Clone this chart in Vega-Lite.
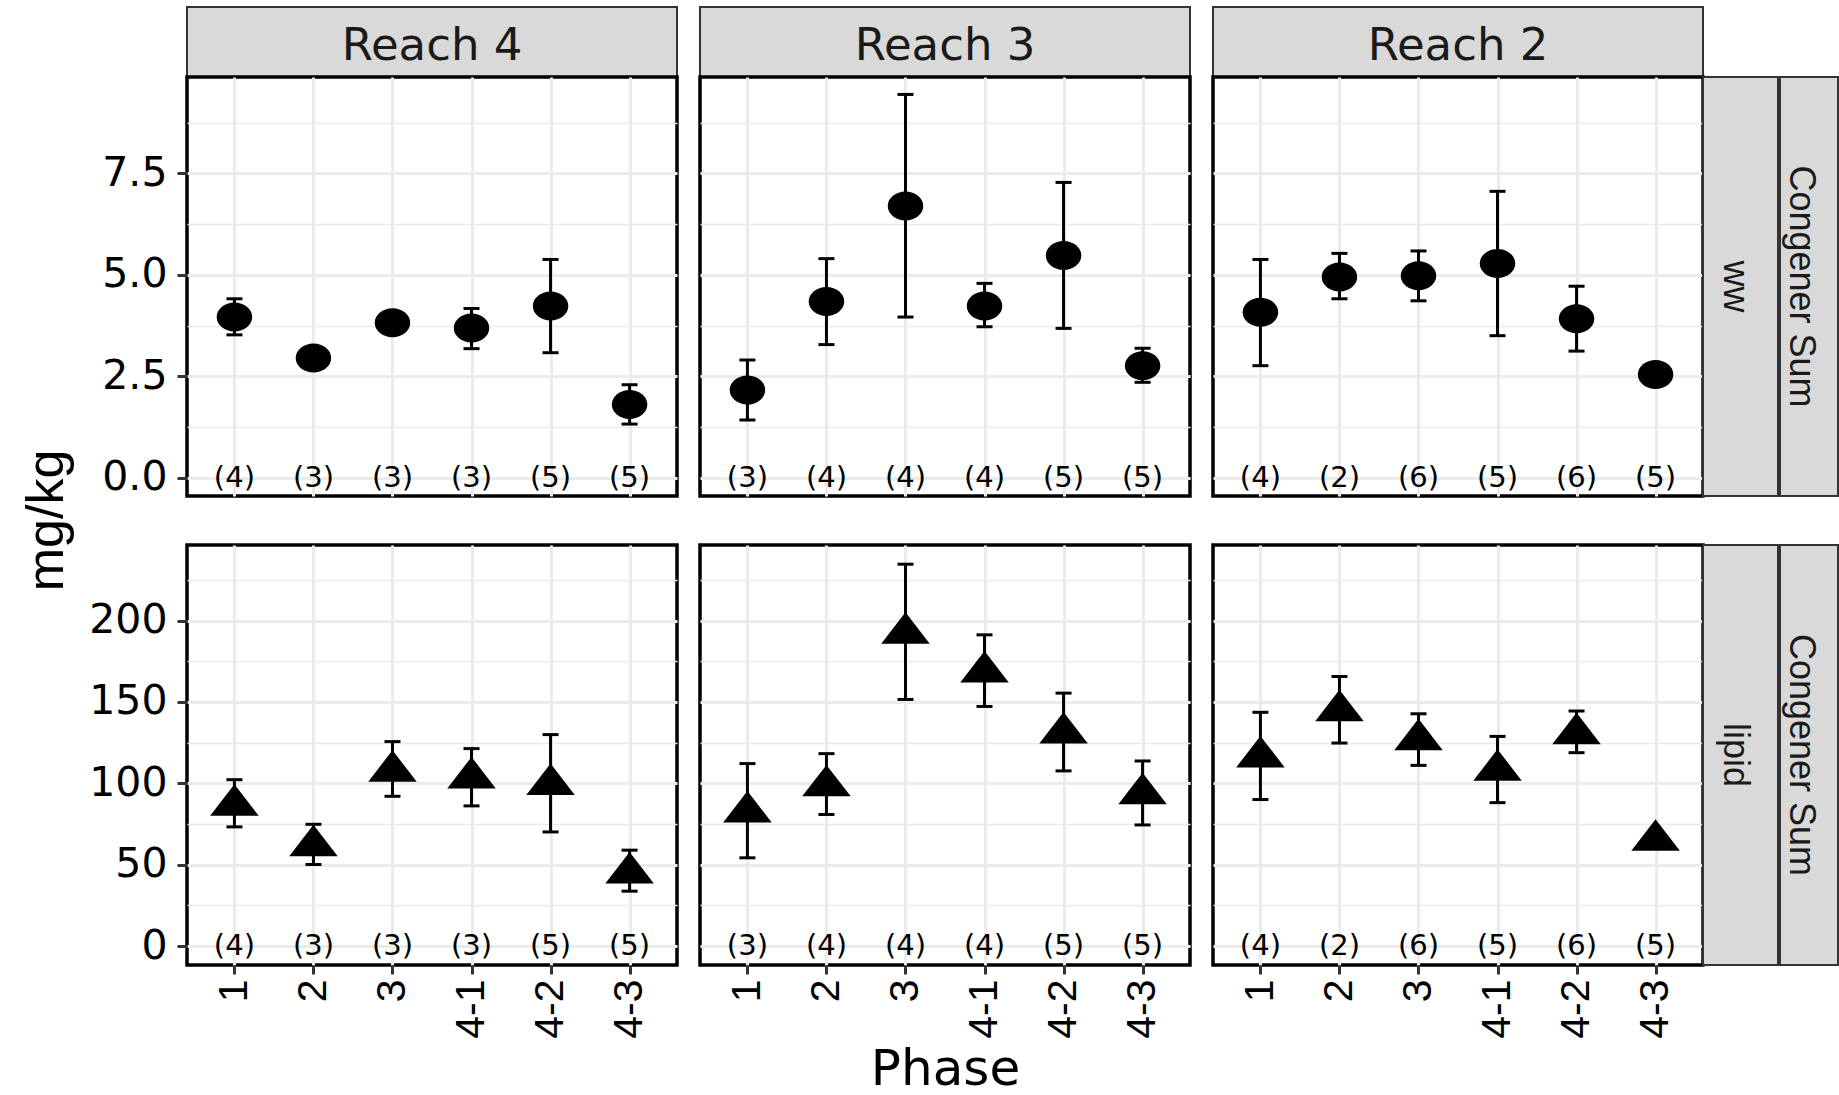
{
  "$schema": "https://vega.github.io/schema/vega-lite/v6.json",
  "background": "white",
  "padding": {"left": 0, "top": 6, "right": 0, "bottom": 0},
  "config": {
    "view": {"stroke": null},
    "axis": {"domain": false, "grid": true, "gridColor": "#ebebeb", "gridWidth": 3, "tickColor": "#333333", "tickWidth": 3, "labelColor": "black", "titleColor": "black", "titleFontWeight": "normal", "labelOverlap": false, "labelFlush": false},
    "axisX": {"labelAngle": 270, "labelFont": "Liberation Sans", "labelFontSize": 41, "labelPadding": 5, "tickSize": 9, "titleFont": "DejaVu Sans", "titleFontSize": 50, "titlePadding": 6},
    "axisY": {"labelFont": "DejaVu Sans", "labelFontSize": 41, "labelPadding": 10, "tickSize": 10}
  },
  "datasets": {
    "congener": [
      {"reach": "Reach 4", "basis": "ww", "phase": "1", "mean": 3.96, "lo": 3.52, "hi": 4.41, "nlab": "(4)"},
      {"reach": "Reach 4", "basis": "ww", "phase": "2", "mean": 2.95, "lo": 2.84, "hi": 3.06, "nlab": "(3)"},
      {"reach": "Reach 4", "basis": "ww", "phase": "3", "mean": 3.82, "lo": 3.72, "hi": 3.93, "nlab": "(3)"},
      {"reach": "Reach 4", "basis": "ww", "phase": "4-1", "mean": 3.69, "lo": 3.18, "hi": 4.17, "nlab": "(3)"},
      {"reach": "Reach 4", "basis": "ww", "phase": "4-2", "mean": 4.23, "lo": 3.08, "hi": 5.38, "nlab": "(5)"},
      {"reach": "Reach 4", "basis": "ww", "phase": "4-3", "mean": 1.80, "lo": 1.32, "hi": 2.29, "nlab": "(5)"},
      {"reach": "Reach 3", "basis": "ww", "phase": "1", "mean": 2.16, "lo": 1.42, "hi": 2.90, "nlab": "(3)"},
      {"reach": "Reach 3", "basis": "ww", "phase": "2", "mean": 4.34, "lo": 3.28, "hi": 5.40, "nlab": "(4)"},
      {"reach": "Reach 3", "basis": "ww", "phase": "3", "mean": 6.70, "lo": 3.96, "hi": 9.45, "nlab": "(4)"},
      {"reach": "Reach 3", "basis": "ww", "phase": "4-1", "mean": 4.23, "lo": 3.72, "hi": 4.79, "nlab": "(4)"},
      {"reach": "Reach 3", "basis": "ww", "phase": "4-2", "mean": 5.48, "lo": 3.68, "hi": 7.28, "nlab": "(5)"},
      {"reach": "Reach 3", "basis": "ww", "phase": "4-3", "mean": 2.76, "lo": 2.35, "hi": 3.19, "nlab": "(5)"},
      {"reach": "Reach 2", "basis": "ww", "phase": "1", "mean": 4.08, "lo": 2.76, "hi": 5.38, "nlab": "(4)"},
      {"reach": "Reach 2", "basis": "ww", "phase": "2", "mean": 4.95, "lo": 4.41, "hi": 5.53, "nlab": "(2)"},
      {"reach": "Reach 2", "basis": "ww", "phase": "3", "mean": 4.98, "lo": 4.36, "hi": 5.59, "nlab": "(6)"},
      {"reach": "Reach 2", "basis": "ww", "phase": "4-1", "mean": 5.28, "lo": 3.50, "hi": 7.06, "nlab": "(5)"},
      {"reach": "Reach 2", "basis": "ww", "phase": "4-2", "mean": 3.92, "lo": 3.12, "hi": 4.72, "nlab": "(6)"},
      {"reach": "Reach 2", "basis": "ww", "phase": "4-3", "mean": 2.54, "lo": 2.46, "hi": 2.62, "nlab": "(5)"},
      {"reach": "Reach 4", "basis": "lipid", "phase": "1", "mean": 86.5, "lo": 73.2, "hi": 102.2, "nlab": "(4)"},
      {"reach": "Reach 4", "basis": "lipid", "phase": "2", "mean": 61.6, "lo": 50.1, "hi": 74.8, "nlab": "(3)"},
      {"reach": "Reach 4", "basis": "lipid", "phase": "3", "mean": 107.4, "lo": 92.0, "hi": 125.6, "nlab": "(3)"},
      {"reach": "Reach 4", "basis": "lipid", "phase": "4-1", "mean": 103.3, "lo": 86.1, "hi": 121.3, "nlab": "(3)"},
      {"reach": "Reach 4", "basis": "lipid", "phase": "4-2", "mean": 99.2, "lo": 70.1, "hi": 129.9, "nlab": "(5)"},
      {"reach": "Reach 4", "basis": "lipid", "phase": "4-3", "mean": 44.8, "lo": 33.7, "hi": 58.9, "nlab": "(5)"},
      {"reach": "Reach 3", "basis": "lipid", "phase": "1", "mean": 82.4, "lo": 54.2, "hi": 112.1, "nlab": "(3)"},
      {"reach": "Reach 3", "basis": "lipid", "phase": "2", "mean": 98.4, "lo": 80.8, "hi": 118.2, "nlab": "(4)"},
      {"reach": "Reach 3", "basis": "lipid", "phase": "3", "mean": 192.2, "lo": 151.5, "hi": 234.6, "nlab": "(4)"},
      {"reach": "Reach 3", "basis": "lipid", "phase": "4-1", "mean": 168.3, "lo": 147.2, "hi": 191.2, "nlab": "(4)"},
      {"reach": "Reach 3", "basis": "lipid", "phase": "4-2", "mean": 130.9, "lo": 107.6, "hi": 155.4, "nlab": "(5)"},
      {"reach": "Reach 3", "basis": "lipid", "phase": "4-3", "mean": 93.5, "lo": 74.4, "hi": 113.7, "nlab": "(5)"},
      {"reach": "Reach 2", "basis": "lipid", "phase": "1", "mean": 116.2, "lo": 90.0, "hi": 143.6, "nlab": "(4)"},
      {"reach": "Reach 2", "basis": "lipid", "phase": "2", "mean": 144.6, "lo": 124.7, "hi": 165.6, "nlab": "(2)"},
      {"reach": "Reach 2", "basis": "lipid", "phase": "3", "mean": 126.8, "lo": 111.0, "hi": 142.7, "nlab": "(6)"},
      {"reach": "Reach 2", "basis": "lipid", "phase": "4-1", "mean": 108.0, "lo": 88.1, "hi": 128.8, "nlab": "(5)"},
      {"reach": "Reach 2", "basis": "lipid", "phase": "4-2", "mean": 130.5, "lo": 118.8, "hi": 144.4, "nlab": "(6)"},
      {"reach": "Reach 2", "basis": "lipid", "phase": "4-3", "mean": 65.0, "lo": 62.0, "hi": 68.0, "nlab": "(5)"}
    ]
  },
  "columns": 9,
  "spacing": 0,
  "bounds": "flush",
  "align": "each",
  "concat": [
    {"width": 187, "height": 70, "view": {"fill": "white"}, "data": {"values": [{}]}, "mark": {"type": "text"}, "encoding": {"text": {"value": ""}}},
    {"width": 490, "height": 70, "view": {"fill": "#d9d9d9", "stroke": "#333333", "strokeWidth": 2}, "data": {"values": [{"label": "Reach 4"}]}, "mark": {"type": "text", "font": "DejaVu Sans", "fontSize": 45, "color": "#1a1a1a", "baseline": "middle", "align": "center", "dy": 4}, "encoding": {"text": {"field": "label"}}},
    {"width": 23, "height": 70, "data": {"values": [{}]}, "mark": {"type": "text"}, "encoding": {"text": {"value": ""}}},
    {"width": 490, "height": 70, "view": {"fill": "#d9d9d9", "stroke": "#333333", "strokeWidth": 2}, "data": {"values": [{"label": "Reach 3"}]}, "mark": {"type": "text", "font": "DejaVu Sans", "fontSize": 45, "color": "#1a1a1a", "baseline": "middle", "align": "center", "dy": 4}, "encoding": {"text": {"field": "label"}}},
    {"width": 23, "height": 70, "data": {"values": [{}]}, "mark": {"type": "text"}, "encoding": {"text": {"value": ""}}},
    {"width": 490, "height": 70, "view": {"fill": "#d9d9d9", "stroke": "#333333", "strokeWidth": 2}, "data": {"values": [{"label": "Reach 2"}]}, "mark": {"type": "text", "font": "DejaVu Sans", "fontSize": 45, "color": "#1a1a1a", "baseline": "middle", "align": "center", "dy": 4}, "encoding": {"text": {"field": "label"}}},
    {"width": 75, "height": 70, "data": {"values": [{}]}, "mark": {"type": "text"}, "encoding": {"text": {"value": ""}}},
    {"width": 2, "height": 70, "data": {"values": [{}]}, "mark": {"type": "text"}, "encoding": {"text": {"value": ""}}},
    {"width": 58, "height": 70, "data": {"values": [{}]}, "mark": {"type": "text"}, "encoding": {"text": {"value": ""}}},

    {"width": 187, "height": 419, "view": {"fill": "white"}, "data": {"values": [{}]}, "mark": {"type": "text"}, "encoding": {"text": {"value": ""}}},
    {
      "width": 490, "height": 419,
      "view": {"fill": "white", "stroke": "black", "strokeWidth": 3.5},
      "data": {"name": "congener"},
      "transform": [{"filter": "datum.reach === 'Reach 4' && datum.basis === 'ww'"}],
      "encoding": {"x": {"field": "phase", "type": "ordinal", "scale": {"type": "point", "padding": 0.6, "domain": ["1", "2", "3", "4-1", "4-2", "4-3"]}, "axis": {"title": null, "labels": false, "ticks": false}}},
      "layer": [
        {"mark": {"type": "rule", "color": "black", "strokeWidth": 3}, "encoding": {"y": {"field": "lo", "type": "quantitative", "scale": {"domain": [-0.454, 9.88], "nice": false, "zero": false}, "axis": {"title": null, "values": [0, 1.25, 2.5, 3.75, 5, 6.25, 7.5, 8.75], "labelExpr": "datum.value % 2.5 === 0 ? format(datum.value, '.1f') : ''", "tickOpacity": {"condition": {"test": "datum.value % 2.5 !== 0", "value": 0}, "value": 1}, "gridWidth": {"condition": {"test": "datum.value % 2.5 !== 0", "value": 1.7}, "value": 3}}}, "y2": {"field": "hi"}}},
        {"mark": {"type": "tick", "orient": "horizontal", "size": 16, "thickness": 3, "color": "black", "opacity": 1}, "encoding": {"y": {"field": "lo", "type": "quantitative", "scale": {"domain": [-0.454, 9.88], "nice": false, "zero": false}}}},
        {"mark": {"type": "tick", "orient": "horizontal", "size": 16, "thickness": 3, "color": "black", "opacity": 1}, "encoding": {"y": {"field": "hi", "type": "quantitative", "scale": {"domain": [-0.454, 9.88], "nice": false, "zero": false}}}},
        {"mark": {"type": "point", "shape": "M-1,0A1,0.817 0 1,0 1,0A1,0.817 0 1,0 -1,0Z", "size": 1260, "filled": true, "color": "black", "opacity": 1, "strokeWidth": 0}, "encoding": {"y": {"field": "mean", "type": "quantitative", "scale": {"domain": [-0.454, 9.88], "nice": false, "zero": false}}}},
        {"mark": {"type": "text", "font": "DejaVu Sans", "fontSize": 29, "color": "black", "baseline": "middle"}, "encoding": {"y": {"datum": 0, "type": "quantitative", "scale": {"domain": [-0.454, 9.88], "nice": false, "zero": false}}, "text": {"field": "nlab"}}}
      ]
    },
    {"width": 23, "height": 419, "data": {"values": [{}]}, "mark": {"type": "text"}, "encoding": {"text": {"value": ""}}},
    {
      "width": 490, "height": 419,
      "view": {"fill": "white", "stroke": "black", "strokeWidth": 3.5},
      "data": {"name": "congener"},
      "transform": [{"filter": "datum.reach === 'Reach 3' && datum.basis === 'ww'"}],
      "encoding": {"x": {"field": "phase", "type": "ordinal", "scale": {"type": "point", "padding": 0.6, "domain": ["1", "2", "3", "4-1", "4-2", "4-3"]}, "axis": {"title": null, "labels": false, "ticks": false}}},
      "layer": [
        {"mark": {"type": "rule", "color": "black", "strokeWidth": 3}, "encoding": {"y": {"field": "lo", "type": "quantitative", "scale": {"domain": [-0.454, 9.88], "nice": false, "zero": false}, "axis": {"title": null, "labels": false, "ticks": false, "values": [0, 1.25, 2.5, 3.75, 5, 6.25, 7.5, 8.75], "gridWidth": {"condition": {"test": "datum.value % 2.5 !== 0", "value": 1.7}, "value": 3}}}, "y2": {"field": "hi"}}},
        {"mark": {"type": "tick", "orient": "horizontal", "size": 16, "thickness": 3, "color": "black", "opacity": 1}, "encoding": {"y": {"field": "lo", "type": "quantitative", "scale": {"domain": [-0.454, 9.88], "nice": false, "zero": false}}}},
        {"mark": {"type": "tick", "orient": "horizontal", "size": 16, "thickness": 3, "color": "black", "opacity": 1}, "encoding": {"y": {"field": "hi", "type": "quantitative", "scale": {"domain": [-0.454, 9.88], "nice": false, "zero": false}}}},
        {"mark": {"type": "point", "shape": "M-1,0A1,0.817 0 1,0 1,0A1,0.817 0 1,0 -1,0Z", "size": 1260, "filled": true, "color": "black", "opacity": 1, "strokeWidth": 0}, "encoding": {"y": {"field": "mean", "type": "quantitative", "scale": {"domain": [-0.454, 9.88], "nice": false, "zero": false}}}},
        {"mark": {"type": "text", "font": "DejaVu Sans", "fontSize": 29, "color": "black", "baseline": "middle"}, "encoding": {"y": {"datum": 0, "type": "quantitative", "scale": {"domain": [-0.454, 9.88], "nice": false, "zero": false}}, "text": {"field": "nlab"}}}
      ]
    },
    {"width": 23, "height": 419, "data": {"values": [{}]}, "mark": {"type": "text"}, "encoding": {"text": {"value": ""}}},
    {
      "width": 490, "height": 419,
      "view": {"fill": "white", "stroke": "black", "strokeWidth": 3.5},
      "data": {"name": "congener"},
      "transform": [{"filter": "datum.reach === 'Reach 2' && datum.basis === 'ww'"}],
      "encoding": {"x": {"field": "phase", "type": "ordinal", "scale": {"type": "point", "padding": 0.6, "domain": ["1", "2", "3", "4-1", "4-2", "4-3"]}, "axis": {"title": null, "labels": false, "ticks": false}}},
      "layer": [
        {"mark": {"type": "rule", "color": "black", "strokeWidth": 3}, "encoding": {"y": {"field": "lo", "type": "quantitative", "scale": {"domain": [-0.454, 9.88], "nice": false, "zero": false}, "axis": {"title": null, "labels": false, "ticks": false, "values": [0, 1.25, 2.5, 3.75, 5, 6.25, 7.5, 8.75], "gridWidth": {"condition": {"test": "datum.value % 2.5 !== 0", "value": 1.7}, "value": 3}}}, "y2": {"field": "hi"}}},
        {"mark": {"type": "tick", "orient": "horizontal", "size": 16, "thickness": 3, "color": "black", "opacity": 1}, "encoding": {"y": {"field": "lo", "type": "quantitative", "scale": {"domain": [-0.454, 9.88], "nice": false, "zero": false}}}},
        {"mark": {"type": "tick", "orient": "horizontal", "size": 16, "thickness": 3, "color": "black", "opacity": 1}, "encoding": {"y": {"field": "hi", "type": "quantitative", "scale": {"domain": [-0.454, 9.88], "nice": false, "zero": false}}}},
        {"mark": {"type": "point", "shape": "M-1,0A1,0.817 0 1,0 1,0A1,0.817 0 1,0 -1,0Z", "size": 1260, "filled": true, "color": "black", "opacity": 1, "strokeWidth": 0}, "encoding": {"y": {"field": "mean", "type": "quantitative", "scale": {"domain": [-0.454, 9.88], "nice": false, "zero": false}}}},
        {"mark": {"type": "text", "font": "DejaVu Sans", "fontSize": 29, "color": "black", "baseline": "middle"}, "encoding": {"y": {"datum": 0, "type": "quantitative", "scale": {"domain": [-0.454, 9.88], "nice": false, "zero": false}}, "text": {"field": "nlab"}}}
      ]
    },
    {"width": 75, "height": 419, "view": {"fill": "#d9d9d9", "stroke": "#333333", "strokeWidth": 2}, "data": {"values": [{"label": "ww"}]}, "mark": {"type": "text", "angle": 90, "font": "Liberation Sans", "fontSize": 36, "color": "#1a1a1a", "baseline": "middle", "align": "center", "dy": 6}, "encoding": {"text": {"field": "label"}}},
    {"width": 2, "height": 419, "data": {"values": [{}]}, "mark": {"type": "text"}, "encoding": {"text": {"value": ""}}},
    {"width": 58, "height": 419, "view": {"fill": "#d9d9d9", "stroke": "#333333", "strokeWidth": 2}, "data": {"values": [{"label": "Congener Sum"}]}, "mark": {"type": "text", "angle": 90, "font": "Liberation Sans", "fontSize": 36, "color": "#1a1a1a", "baseline": "middle", "align": "center", "dy": 8}, "encoding": {"text": {"field": "label"}}},

    {"width": 187, "height": 49, "data": {"values": [{"label": "mg/kg"}]}, "mark": {"type": "text", "angle": 270, "font": "Liberation Sans", "fontSize": 52, "color": "black", "baseline": "middle", "align": "center", "dy": -47}, "encoding": {"text": {"field": "label"}}},
    {"width": 490, "height": 49, "data": {"values": [{}]}, "mark": {"type": "text"}, "encoding": {"text": {"value": ""}}},
    {"width": 23, "height": 49, "data": {"values": [{}]}, "mark": {"type": "text"}, "encoding": {"text": {"value": ""}}},
    {"width": 490, "height": 49, "data": {"values": [{}]}, "mark": {"type": "text"}, "encoding": {"text": {"value": ""}}},
    {"width": 23, "height": 49, "data": {"values": [{}]}, "mark": {"type": "text"}, "encoding": {"text": {"value": ""}}},
    {"width": 490, "height": 49, "data": {"values": [{}]}, "mark": {"type": "text"}, "encoding": {"text": {"value": ""}}},
    {"width": 75, "height": 49, "data": {"values": [{}]}, "mark": {"type": "text"}, "encoding": {"text": {"value": ""}}},
    {"width": 2, "height": 49, "data": {"values": [{}]}, "mark": {"type": "text"}, "encoding": {"text": {"value": ""}}},
    {"width": 58, "height": 49, "data": {"values": [{}]}, "mark": {"type": "text"}, "encoding": {"text": {"value": ""}}},

    {"width": 187, "height": 420, "data": {"values": [{}]}, "mark": {"type": "text"}, "encoding": {"text": {"value": ""}}},
    {
      "width": 490, "height": 420,
      "view": {"fill": "white", "stroke": "black", "strokeWidth": 3.5},
      "data": {"name": "congener"},
      "transform": [{"filter": "datum.reach === 'Reach 4' && datum.basis === 'lipid'"}],
      "encoding": {"x": {"field": "phase", "type": "ordinal", "scale": {"type": "point", "padding": 0.6, "domain": ["1", "2", "3", "4-1", "4-2", "4-3"]}, "axis": {"title": null}}},
      "layer": [
        {"mark": {"type": "rule", "color": "black", "strokeWidth": 3}, "encoding": {"y": {"field": "lo", "type": "quantitative", "scale": {"domain": [-11.66, 246.4], "nice": false, "zero": false}, "axis": {"title": null, "values": [0, 25, 50, 75, 100, 125, 150, 175, 200, 225], "labelExpr": "datum.value % 50 === 0 ? datum.label : ''", "tickOpacity": {"condition": {"test": "datum.value % 50 !== 0", "value": 0}, "value": 1}, "gridWidth": {"condition": {"test": "datum.value % 50 !== 0", "value": 1.7}, "value": 3}}}, "y2": {"field": "hi"}}},
        {"mark": {"type": "tick", "orient": "horizontal", "size": 16, "thickness": 3, "color": "black", "opacity": 1}, "encoding": {"y": {"field": "lo", "type": "quantitative", "scale": {"domain": [-11.66, 246.4], "nice": false, "zero": false}}}},
        {"mark": {"type": "tick", "orient": "horizontal", "size": 16, "thickness": 3, "color": "black", "opacity": 1}, "encoding": {"y": {"field": "hi", "type": "quantitative", "scale": {"domain": [-11.66, 246.4], "nice": false, "zero": false}}}},
        {"mark": {"type": "point", "shape": "M0,-0.866L1,0.433L-1,0.433Z", "size": 2352, "filled": true, "color": "black", "opacity": 1, "strokeWidth": 0}, "encoding": {"y": {"field": "mean", "type": "quantitative", "scale": {"domain": [-11.66, 246.4], "nice": false, "zero": false}}}},
        {"mark": {"type": "text", "font": "DejaVu Sans", "fontSize": 29, "color": "black", "baseline": "middle"}, "encoding": {"y": {"datum": 0, "type": "quantitative", "scale": {"domain": [-11.66, 246.4], "nice": false, "zero": false}}, "text": {"field": "nlab"}}}
      ]
    },
    {"width": 23, "height": 420, "data": {"values": [{}]}, "mark": {"type": "text"}, "encoding": {"text": {"value": ""}}},
    {
      "width": 490, "height": 420,
      "view": {"fill": "white", "stroke": "black", "strokeWidth": 3.5},
      "data": {"name": "congener"},
      "transform": [{"filter": "datum.reach === 'Reach 3' && datum.basis === 'lipid'"}],
      "encoding": {"x": {"field": "phase", "type": "ordinal", "scale": {"type": "point", "padding": 0.6, "domain": ["1", "2", "3", "4-1", "4-2", "4-3"]}, "axis": {"title": "Phase"}}},
      "layer": [
        {"mark": {"type": "rule", "color": "black", "strokeWidth": 3}, "encoding": {"y": {"field": "lo", "type": "quantitative", "scale": {"domain": [-11.66, 246.4], "nice": false, "zero": false}, "axis": {"title": null, "labels": false, "ticks": false, "values": [0, 25, 50, 75, 100, 125, 150, 175, 200, 225], "gridWidth": {"condition": {"test": "datum.value % 50 !== 0", "value": 1.7}, "value": 3}}}, "y2": {"field": "hi"}}},
        {"mark": {"type": "tick", "orient": "horizontal", "size": 16, "thickness": 3, "color": "black", "opacity": 1}, "encoding": {"y": {"field": "lo", "type": "quantitative", "scale": {"domain": [-11.66, 246.4], "nice": false, "zero": false}}}},
        {"mark": {"type": "tick", "orient": "horizontal", "size": 16, "thickness": 3, "color": "black", "opacity": 1}, "encoding": {"y": {"field": "hi", "type": "quantitative", "scale": {"domain": [-11.66, 246.4], "nice": false, "zero": false}}}},
        {"mark": {"type": "point", "shape": "M0,-0.866L1,0.433L-1,0.433Z", "size": 2352, "filled": true, "color": "black", "opacity": 1, "strokeWidth": 0}, "encoding": {"y": {"field": "mean", "type": "quantitative", "scale": {"domain": [-11.66, 246.4], "nice": false, "zero": false}}}},
        {"mark": {"type": "text", "font": "DejaVu Sans", "fontSize": 29, "color": "black", "baseline": "middle"}, "encoding": {"y": {"datum": 0, "type": "quantitative", "scale": {"domain": [-11.66, 246.4], "nice": false, "zero": false}}, "text": {"field": "nlab"}}}
      ]
    },
    {"width": 23, "height": 420, "data": {"values": [{}]}, "mark": {"type": "text"}, "encoding": {"text": {"value": ""}}},
    {
      "width": 490, "height": 420,
      "view": {"fill": "white", "stroke": "black", "strokeWidth": 3.5},
      "data": {"name": "congener"},
      "transform": [{"filter": "datum.reach === 'Reach 2' && datum.basis === 'lipid'"}],
      "encoding": {"x": {"field": "phase", "type": "ordinal", "scale": {"type": "point", "padding": 0.6, "domain": ["1", "2", "3", "4-1", "4-2", "4-3"]}, "axis": {"title": null}}},
      "layer": [
        {"mark": {"type": "rule", "color": "black", "strokeWidth": 3}, "encoding": {"y": {"field": "lo", "type": "quantitative", "scale": {"domain": [-11.66, 246.4], "nice": false, "zero": false}, "axis": {"title": null, "labels": false, "ticks": false, "values": [0, 25, 50, 75, 100, 125, 150, 175, 200, 225], "gridWidth": {"condition": {"test": "datum.value % 50 !== 0", "value": 1.7}, "value": 3}}}, "y2": {"field": "hi"}}},
        {"mark": {"type": "tick", "orient": "horizontal", "size": 16, "thickness": 3, "color": "black", "opacity": 1}, "encoding": {"y": {"field": "lo", "type": "quantitative", "scale": {"domain": [-11.66, 246.4], "nice": false, "zero": false}}}},
        {"mark": {"type": "tick", "orient": "horizontal", "size": 16, "thickness": 3, "color": "black", "opacity": 1}, "encoding": {"y": {"field": "hi", "type": "quantitative", "scale": {"domain": [-11.66, 246.4], "nice": false, "zero": false}}}},
        {"mark": {"type": "point", "shape": "M0,-0.866L1,0.433L-1,0.433Z", "size": 2352, "filled": true, "color": "black", "opacity": 1, "strokeWidth": 0}, "encoding": {"y": {"field": "mean", "type": "quantitative", "scale": {"domain": [-11.66, 246.4], "nice": false, "zero": false}}}},
        {"mark": {"type": "text", "font": "DejaVu Sans", "fontSize": 29, "color": "black", "baseline": "middle"}, "encoding": {"y": {"datum": 0, "type": "quantitative", "scale": {"domain": [-11.66, 246.4], "nice": false, "zero": false}}, "text": {"field": "nlab"}}}
      ]
    },
    {"width": 75, "height": 420, "view": {"fill": "#d9d9d9", "stroke": "#333333", "strokeWidth": 2}, "data": {"values": [{"label": "lipid"}]}, "mark": {"type": "text", "angle": 90, "font": "Liberation Sans", "fontSize": 36, "color": "#1a1a1a", "baseline": "middle", "align": "center", "dy": 6}, "encoding": {"text": {"field": "label"}}},
    {"width": 2, "height": 420, "data": {"values": [{}]}, "mark": {"type": "text"}, "encoding": {"text": {"value": ""}}},
    {"width": 58, "height": 420, "view": {"fill": "#d9d9d9", "stroke": "#333333", "strokeWidth": 2}, "data": {"values": [{"label": "Congener Sum"}]}, "mark": {"type": "text", "angle": 90, "font": "Liberation Sans", "fontSize": 36, "color": "#1a1a1a", "baseline": "middle", "align": "center", "dy": 8}, "encoding": {"text": {"field": "label"}}}
  ]
}
